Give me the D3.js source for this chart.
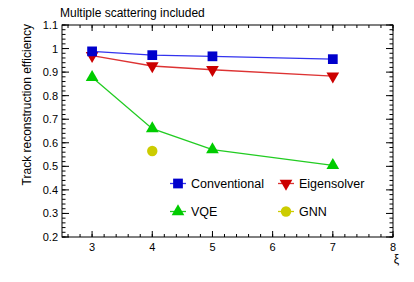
<!DOCTYPE html>
<html>
<head>
<meta charset="utf-8">
<script src="https://cdn.jsdelivr.net/npm/d3@7"></script>
<style>
  html, body { margin: 0; padding: 0; background: #fff; }
  svg { display: block; font-family: "Liberation Sans", Arial, sans-serif; }
</style>
</head>
<body>
<svg id="chart" width="414" height="282"></svg>
<script>
// Data
const xi = [3, 4, 5, 7];
const conventional = [0.988, 0.972, 0.967, 0.955];
const eigensolver = [0.970, 0.926, 0.910, 0.883];
const vqe = [0.878, 0.660, 0.571, 0.504];
const gnnXi = [4];
const gnn = [0.565];
const xTicks = [3, 4, 5, 6, 7, 8];
const yTicks = [0.2, 0.3, 0.4, 0.5, 0.6, 0.7, 0.8, 0.9, 1, 1.1];

const svg = d3.select('#chart');
const margin = { top: 25, right: 21, bottom: 45, left: 62 };
const width = 414, height = 282;
const innerW = width - margin.left - margin.right;
const innerH = height - margin.top - margin.bottom;

const x = d3.scaleLinear().domain([2.5, 8]).range([0, innerW]);
const y = d3.scaleLinear().domain([0.2, 1.1]).range([innerH, 0]);

const g = svg.append('g').attr('transform', `translate(${margin.left},${margin.top})`);

// ROOT-style ticks: major + 4 minor per interval, pointing inside the frame
const xMinor = d3.range(2.6, 8.001, 0.2).map(v => +v.toFixed(2));
const yMinor = d3.range(0.2, 1.1001, 0.02).map(v => +v.toFixed(2));

function ticks(vals, len, horiz, flip) {
  vals.forEach(v => {
    if (horiz) {
      const px = x(v);
      const y0 = flip ? 0 : innerH;
      const y1 = flip ? len : innerH - len;
      g.append('line').attr('x1', px).attr('x2', px).attr('y1', y0).attr('y2', y1)
        .attr('stroke', '#000').attr('stroke-width', 1);
    } else {
      const py = y(v);
      const x0 = flip ? innerW : 0;
      const x1 = flip ? innerW - len : len;
      g.append('line').attr('x1', x0).attr('x2', x1).attr('y1', py).attr('y2', py)
        .attr('stroke', '#000').attr('stroke-width', 1);
    }
  });
}
ticks(xTicks, 6, true, false);
ticks(xMinor, 3, true, false);
ticks(xTicks, 6, true, true);
ticks(xMinor, 3, true, true);
ticks(yTicks, 7, false, false);
ticks(yMinor, 3.5, false, false);
ticks(yTicks, 7, false, true);
ticks(yMinor, 3.5, false, true);

// frame
g.append('rect').attr('width', innerW).attr('height', innerH)
  .attr('fill', 'none').attr('stroke', '#000').attr('stroke-width', 1);

// tick labels
g.selectAll('.xl').data(xTicks).join('text')
  .attr('x', d => x(d)).attr('y', innerH + 14)
  .attr('text-anchor', 'middle').attr('font-size', 11).text(d => d);
g.selectAll('.yl').data(yTicks).join('text')
  .attr('x', -4).attr('y', d => y(d) + 4)
  .attr('text-anchor', 'end').attr('font-size', 11).text(d => d);

// axis titles
svg.append('text').attr('x', 399).attr('y', 263)
  .attr('text-anchor', 'end').attr('font-size', 12).text('ξ');
svg.append('text').attr('transform', `translate(31,${margin.top - 1}) rotate(-90)`)
  .attr('text-anchor', 'end').attr('font-size', 12).text('Track reconstruction efficiency');
svg.append('text').attr('x', 60).attr('y', 17).attr('font-size', 12)
  .text('Multiple scattering included');

// marker shapes
const sym = {
  square: d3.symbol().type(d3.symbolSquare).size(95),
  tri: d3.symbol().type(d3.symbolTriangle).size(70),
  circle: d3.symbol().type(d3.symbolCircle).size(85)
};

function marker(parent, shape, cx, cy, color, down) {
  parent.append('path').attr('d', sym[shape]())
    .attr('transform', `translate(${cx},${cy})${down ? ' rotate(180)' : ''}`)
    .attr('fill', color);
}

const series = [
  { name: 'Conventional', xs: xi, ys: conventional, color: '#0000cc', line: '#3333ee', shape: 'square' },
  { name: 'Eigensolver', xs: xi, ys: eigensolver, color: '#cc0000', line: '#dd3333', shape: 'tri', down: true },
  { name: 'VQE', xs: xi, ys: vqe, color: '#00cc00', line: '#22cc22', shape: 'tri' },
  { name: 'GNN', xs: gnnXi, ys: gnn, color: '#cccc00', line: '#cccc00', shape: 'circle' }
];

const line = d3.line().x(d => x(d[0])).y(d => y(d[1]));
// draw in reverse so Conventional sits on top
series.slice().reverse().forEach(s => {
  const pts = s.xs.map((v, i) => [v, s.ys[i]]);
  if (pts.length > 1) {
    g.append('path').datum(pts).attr('d', line)
      .attr('fill', 'none').attr('stroke', s.line).attr('stroke-width', 1.3);
  }
  pts.forEach(p => marker(g, s.shape, x(p[0]), y(p[1]), s.color, s.down));
});

// legend
const legendPos = [
  { s: series[0], lx: 178, ly: 183.5 },
  { s: series[1], lx: 286, ly: 183.5 },
  { s: series[2], lx: 178, ly: 211.5 },
  { s: series[3], lx: 286, ly: 211.5 }
];
legendPos.forEach(({ s, lx, ly }) => {
  svg.append('line').attr('x1', lx - 8).attr('x2', lx + 8).attr('y1', ly).attr('y2', ly)
    .attr('stroke', s.line).attr('stroke-width', 1.3);
  marker(svg, s.shape, lx, ly, s.color, s.down);
  svg.append('text').attr('x', lx + 13).attr('y', ly + 4.5).attr('font-size', 12.5).text(s.name);
});
</script>
</body>
</html>
